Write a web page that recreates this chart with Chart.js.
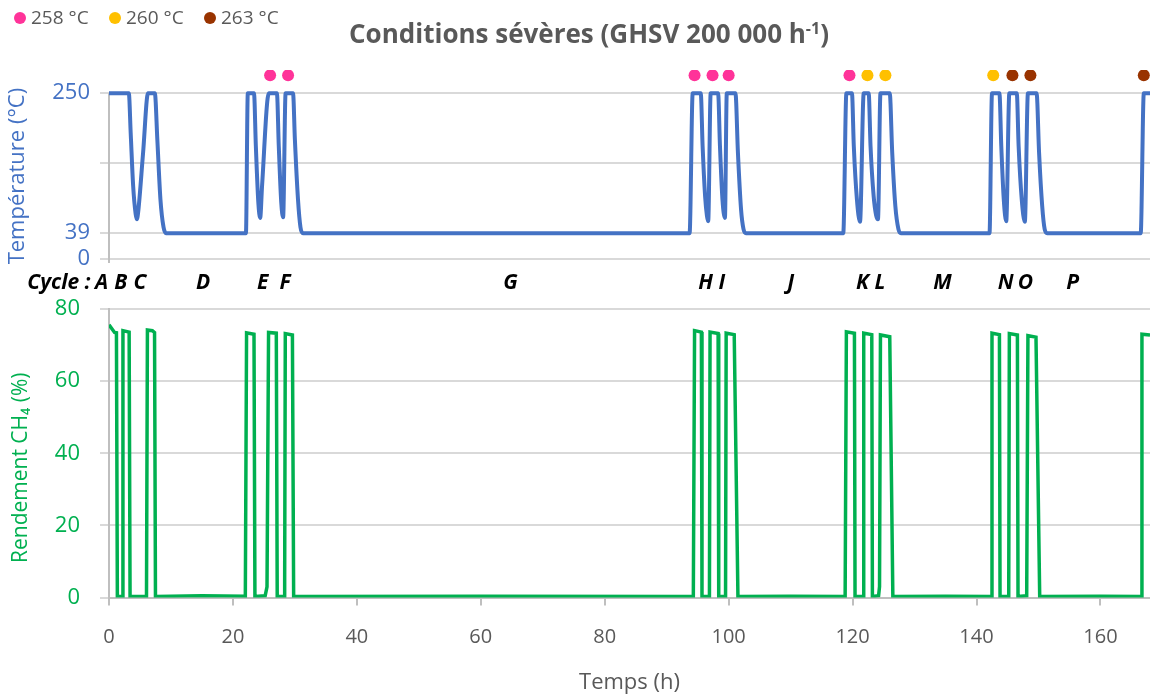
<!DOCTYPE html>
<html>
<head>
<meta charset="utf-8">
<script src="https://cdn.jsdelivr.net/npm/chart.js@4.4.1/dist/chart.umd.min.js"></script>
<style>
    body { margin: 0; background: #fff; width: 1150px; height: 697px; overflow: hidden; position: relative; }
    #topBox { position: absolute; left: 0; top: 0; width: 1150px; height: 295px; }
    #bottomBox { position: absolute; left: 0; top: 275px; width: 1150px; height: 422px; }
</style>
</head>
<body>
<div id="topBox"><canvas id="tempChart"></canvas></div>
<div id="bottomBox"><canvas id="yieldChart"></canvas></div>
<script>
// temperature profile (h, °C)
const tempTime = [
    0, 3.2, 3.5, 3.9, 4.3, 4.5, 4.7, 5.5, 6.3, 7.4, 7.8, 8.3, 8.8, 9.2,
    22.1, 22.4, 23.4, 23.7, 24.1, 24.4, 24.7, 25.8, 27.1, 27.4, 27.8, 28.1, 28.5, 29.7, 30.0, 30.5, 30.9, 31.3,
    93.7, 94.2, 95.5, 95.8, 96.2, 96.5, 96.7, 97.1, 98.3, 98.6, 99.0, 99.4, 99.7, 101.1, 101.5, 102.0, 102.4, 102.8,
    118.5, 119.0, 119.9, 120.2, 120.7, 121.2, 121.8, 122.6, 122.9, 123.4, 123.8, 124.1, 124.5, 126.0, 126.4, 126.9, 127.4, 127.8,
    142.1, 142.5, 143.7, 144.0, 144.4, 144.8, 145.3, 146.5, 146.8, 147.3, 147.8, 148.3, 149.7, 150.1, 150.6, 151.0, 151.4,
    166.5, 167.0, 168
];
const tempValue = [
    250, 250, 190, 110, 68, 60, 70, 160, 250, 250, 180, 90, 48, 39,
    39, 250, 250, 170, 85, 62, 110, 250, 250, 170, 85, 63, 250, 250, 180, 90, 48, 39,
    39, 250, 250, 170, 95, 65, 57, 250, 250, 170, 90, 62, 250, 250, 160, 75, 45, 39,
    39, 250, 250, 170, 90, 56, 250, 250, 170, 95, 66, 60, 250, 250, 160, 80, 45, 39,
    39, 250, 250, 170, 90, 57, 250, 250, 170, 90, 56, 250, 250, 160, 80, 45, 39,
    39, 250, 250
];

// CH4 yield (h, %)
const yieldTime = [
    0, 0.9, 1.2, 1.35, 2.1, 2.25, 3.25, 3.4, 6.05, 6.2, 7.0, 7.35, 7.5, 15, 22.0, 22.2, 23.4, 23.55,
    25.2, 25.5, 25.75, 27.0, 27.15, 28.3, 28.35, 28.45, 29.6, 29.8, 60, 94.3,
    94.5, 95.6, 95.7, 96.9, 97.0, 98.3, 98.4, 99.5, 99.6, 100.9, 101.5, 110, 118.8,
    119.0, 120.3, 120.4, 121.7, 121.8, 123.1, 123.2, 124.2, 124.35, 124.5, 126.0, 126.5, 135, 142.4,
    142.5, 143.7, 143.8, 145.2, 145.3, 146.6, 146.7, 148.1, 148.3, 149.6, 150.2, 160, 166.6,
    166.7, 168
];
const yieldValue = [
    75.6, 73.5, 73.4, 0.3, 0.3, 74, 73.6, 0.3, 0.3, 74.2, 74, 73.5, 0.3, 0.5, 0.4, 73.4, 73, 0.3,
    0.5, 3, 73.5, 73.3, 0.3, 0.3, 5, 73.2, 72.8, 0.3, 0.4, 0.3,
    74, 73.6, 0.3, 0.3, 73.6, 73.2, 0.3, 0.3, 73.3, 72.9, 0.3, 0.4, 0.3,
    73.7, 73.3, 0.3, 0.3, 73.3, 72.9, 0.3, 0.5, 3, 72.8, 72.3, 0.3, 0.4, 0.3,
    73.3, 72.9, 0.3, 0.3, 73.2, 72.8, 0.3, 0.5, 72.6, 72.2, 0.3, 0.4, 0.3,
    73, 72.8
];

// reaction temperature markers
const dotLabels = ['258 °C', '260 °C', '263 °C'];
const dotColors = ['#FF3399', '#FFC000', '#993300'];
const dotTimes = [
    [26, 28.9, 94.5, 97.4, 100, 119.5],
    [122.4, 125.3, 142.7],
    [145.8, 148.7, 167]
];
const dotLevel = 277;

const cycleLetters = ['A', 'B', 'C', 'D', 'E', 'F', 'G', 'H', 'I', 'J', 'K', 'L', 'M', 'N', 'O', 'P'];
const cycleTimes = [-1.2, 1.9, 5.0, 15.2, 24.8, 28.4, 64.8, 96.3, 98.9, 110, 121.6, 124.4, 134.5, 144.7, 147.9, 155.5];

const tempTicks = [0, 39, 144.5, 250];
const timeTicks = [0, 20, 40, 60, 80, 100, 120, 140, 160];
const yieldTicks = [0, 20, 40, 60, 80];

const FONT = '"Open Sans", "Noto Sans", sans-serif';
const GREY = '#595959';
const BLUE = '#4472C4';
const GREEN = '#00B050';

const pairs = (xs, ys) => xs.map((t, i) => ({ x: t, y: ys[i] }));

function verticalTitle(ctx, text, x, y, color, size) {
    ctx.save();
    ctx.translate(x, y);
    ctx.rotate(-Math.PI / 2);
    ctx.font = size + 'px ' + FONT;
    ctx.fillStyle = color;
    ctx.textAlign = 'center';
    ctx.textBaseline = 'middle';
    ctx.fillText(text, 0, 0);
    ctx.restore();
}

const topTexts = {
    id: 'topTexts',
    beforeDatasetsDraw(chart) {
        // y axis line, from 0 to 250 only
        const ctx = chart.ctx;
        const y = chart.scales.y;
        ctx.save();
        ctx.strokeStyle = '#BFBFBF';
        ctx.lineWidth = 2;
        ctx.beginPath();
        ctx.moveTo(chart.chartArea.left, y.getPixelForValue(0) + 4);
        ctx.lineTo(chart.chartArea.left, y.getPixelForValue(250));
        ctx.stroke();
        ctx.restore();
    },
    afterDraw(chart) {
        const ctx = chart.ctx;
        const x = chart.scales.x;
        const y = chart.scales.y;
        ctx.save();

        // legend
        ctx.font = '19px ' + FONT;
        ctx.textAlign = 'left';
        ctx.textBaseline = 'middle';
        dotLabels.forEach((lab, k) => {
            const cx = 20 + k * 95;
            ctx.fillStyle = dotColors[k];
            ctx.beginPath();
            ctx.arc(cx, 18, 6, 0, Math.PI * 2);
            ctx.fill();
            ctx.fillStyle = GREY;
            ctx.fillText(lab, cx + 11, 19);
        });

        // title
        const main = 'Conditions sévères (GHSV 200 000 h';
        ctx.font = 'bold 26px ' + FONT;
        const w1 = ctx.measureText(main).width;
        const w3 = ctx.measureText(')').width;
        ctx.font = 'bold 16px ' + FONT;
        const w2 = ctx.measureText('-1').width;
        const left = 589 - (w1 + w2 + w3) / 2;
        ctx.fillStyle = GREY;
        ctx.textBaseline = 'alphabetic';
        ctx.font = 'bold 26px ' + FONT;
        ctx.fillText(main, left, 43);
        ctx.fillText(')', left + w1 + w2, 43);
        ctx.font = 'bold 16px ' + FONT;
        ctx.fillText('-1', left + w1, 34);

        // cycle letters
        ctx.font = 'italic bold 21px ' + FONT;
        ctx.fillStyle = '#000';
        ctx.textAlign = 'center';
        ctx.textBaseline = 'middle';
        cycleLetters.forEach((l, i) => ctx.fillText(l, x.getPixelForValue(cycleTimes[i]), 283));
        ctx.textAlign = 'right';
        ctx.fillText('Cycle :', x.getPixelForValue(cycleTimes[0]) - 11, 283);
        ctx.restore();

        verticalTitle(ctx, 'Température (°C)', 17.5,
            (y.getPixelForValue(0) + y.getPixelForValue(250)) / 2, BLUE, 22);
    }
};

const bottomTexts = {
    id: 'bottomTexts',
    afterDraw(chart) {
        const y = chart.scales.y;
        verticalTitle(chart.ctx, 'Rendement CH₄ (%)', 21,
            y.getPixelForValue(36), GREEN, 21);
    }
};

new Chart(document.getElementById('tempChart'), {
    type: 'line',
    data: {
        datasets: [
            {
                label: 'Température',
                data: pairs(tempTime, tempValue),
                borderColor: BLUE,
                borderWidth: 4,
                pointRadius: 0,
                cubicInterpolationMode: 'monotone'
            },
            ...dotLabels.map((lab, k) => ({
                label: lab,
                data: dotTimes[k].map(t => ({ x: t, y: dotLevel })),
                showLine: false,
                pointRadius: 6,
                pointBorderWidth: 0,
                backgroundColor: dotColors[k],
                borderColor: dotColors[k]
            }))
        ]
    },
    options: {
        responsive: true,
        maintainAspectRatio: false,
        animation: false,
        layout: { autoPadding: false, padding: { top: 70, bottom: 36, left: 0, right: 0 } },
        plugins: { legend: { display: false }, tooltip: { enabled: false } },
        scales: {
            x: { type: 'linear', min: 0, max: 168, display: false },
            y: {
                min: 0,
                max: 285,
                afterBuildTicks: s => { s.ticks = tempTicks.map(v => ({ value: v })); },
                afterFit: s => { s.width = 109; },
                ticks: {
                    color: BLUE,
                    font: { family: FONT, size: 22 },
                    padding: 10,
                    callback: v => (v === 144.5 ? '' : v)
                },
                grid: { color: '#D9D9D9', lineWidth: 2, tickLength: 9 },
                border: { display: false }
            }
        }
    },
    plugins: [topTexts]
});

new Chart(document.getElementById('yieldChart'), {
    type: 'line',
    data: {
        datasets: [{
            label: 'Rendement CH4',
            data: pairs(yieldTime, yieldValue),
            borderColor: GREEN,
            borderWidth: 3.5,
            pointRadius: 0,
            tension: 0
        }]
    },
    options: {
        responsive: true,
        maintainAspectRatio: false,
        animation: false,
        layout: { autoPadding: false, padding: { top: 34, bottom: 0, left: 0, right: 0 } },
        plugins: { legend: { display: false }, tooltip: { enabled: false } },
        scales: {
            x: {
                type: 'linear',
                min: 0,
                max: 168,
                afterBuildTicks: s => { s.ticks = timeTicks.map(v => ({ value: v })); },
                ticks: { color: GREY, font: { family: FONT, size: 20 }, padding: 20, maxRotation: 0 },
                grid: { drawOnChartArea: false, color: '#BFBFBF', lineWidth: 2, tickLength: 8 },
                border: { color: '#BFBFBF', width: 2 },
                title: { display: true, text: 'Temps (h)', color: GREY, font: { family: FONT, size: 22 }, padding: { top: 0, bottom: 1 } }
            },
            y: {
                min: 0,
                max: 80,
                afterBuildTicks: s => { s.ticks = yieldTicks.map(v => ({ value: v })); },
                afterFit: s => { s.width = 109; },
                ticks: { color: GREEN, font: { family: FONT, size: 22 }, padding: 20 },
                grid: { color: '#D9D9D9', lineWidth: 2, tickLength: 9 },
                border: { color: '#BFBFBF', width: 2 }
            }
        }
    },
    plugins: [bottomTexts]
});
</script>
</body>
</html>
